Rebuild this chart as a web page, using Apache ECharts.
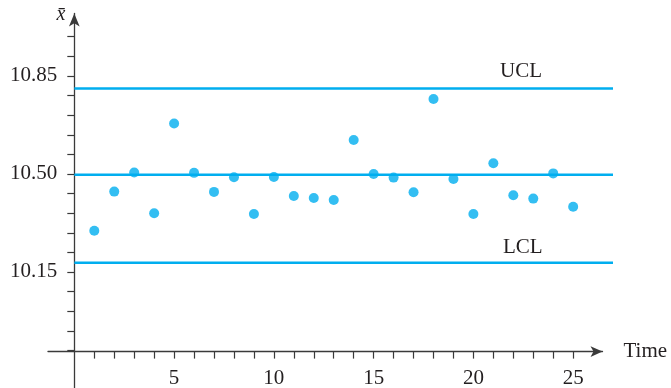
<!DOCTYPE html>
<html>
<head>
<meta charset="utf-8">
<script src="https://cdn.jsdelivr.net/npm/echarts@6/dist/echarts.min.js"></script>
<style>html,body{margin:0;padding:0;background:#fff}#c{width:671px;height:388px}</style>
</head>
<body>
<div id="c"></div>
<script>
// Sample number (time) and sample means
const timeValues = [1,2,3,4,5,6,7,8,9,10,11,12,13,14,15,16,17,18,19,20,21,22,23,24,25];
const meanValues = [10.297,10.437,10.505,10.360,10.680,10.504,10.436,10.488,10.357,10.489,
                    10.421,10.414,10.407,10.621,10.500,10.487,10.435,10.768,10.482,10.357,
                    10.538,10.424,10.412,10.502,10.383];
// Control limits
const ucl = 10.805;
const centerLine = 10.497;
const lcl = 10.183;
const limitSpanX = [0, 27];
// Ticks and labels
const yTickValues = [9.87,9.94,10.01,10.08,10.15,10.22,10.29,10.36,10.43,10.50,10.57,10.64,10.71,10.78,10.85,10.92,10.99];
const yLabelValues = [10.15, 10.50, 10.85];
const xTickValues = [1,2,3,4,5,6,7,8,9,10,11,12,13,14,15,16,17,18,19,20,21,22,23,24,25];
const xLabelValues = [5,10,15,20,25];

const FONT = "'Liberation Serif','Times New Roman',serif";
const INK = '#231f20';
const AX = '#3a3a3a';
const CYAN = '#00aeef';

const X_MIN = -1.32, X_MAX = 26.47, X_MAX_LINES = 27;
const Y_MIN = 9.73, Y_MAX = 11.073;

function limitLine(v, name, offset) {
  return {
    type: 'line',
    name: name,
    xAxisIndex: 1,
    yAxisIndex: 1,
    data: limitSpanX.map(x => [x, v]),
    symbol: 'none',
    silent: true,
    lineStyle: { color: CYAN, width: 2.5 },
    endLabel: name ? {
      show: true,
      formatter: name,
      offset: offset,
      fontFamily: FONT,
      fontSize: 21,
      color: INK
    } : { show: false },
    z: 2
  };
}

const chart = echarts.init(document.getElementById('c'), null, { renderer: 'canvas' });
chart.setOption({
  animation: false,
  backgroundColor: '#fff',
  grid: [
    { left: 48, right: 68.5, top: 13.5, bottom: -1.6, containLabel: false, outerBoundsMode: 'none' },
    { left: 48, right: 58, top: 13.5, bottom: -1.6, containLabel: false, outerBoundsMode: 'none' }
  ],
  xAxis: [{
    type: 'value',
    gridIndex: 0,
    min: X_MIN,
    max: X_MAX,
    offset: -38,
    name: 'Time',
    nameLocation: 'end',
    nameGap: 21,
    nameTextStyle: { fontFamily: FONT, fontSize: 21, color: INK, verticalAlign: 'middle' },
    axisLine: { onZero: false, lineStyle: { color: AX, width: 1.3 }, symbol: ['none', 'arrow'], symbolSize: [8, 12] },
    axisTick: { show: true, length: 7, inside: false, customValues: xTickValues, lineStyle: { color: AX, width: 1.2 } },
    axisLabel: { customValues: xLabelValues, margin: 16, fontFamily: FONT, fontSize: 21, color: INK },
    splitLine: { show: false }
  }, {
    type: 'value',
    gridIndex: 1,
    min: X_MIN,
    max: X_MAX_LINES,
    show: false
  }],
  yAxis: [{
    type: 'value',
    gridIndex: 0,
    min: Y_MIN,
    max: Y_MAX,
    offset: -26.3,
    name: 'x\u0304',
    nameLocation: 'end',
    nameGap: -1,
    nameTextStyle: { fontFamily: FONT, fontStyle: 'italic', fontSize: 20, color: INK, align: 'right', verticalAlign: 'middle', padding: [0, 9, 0, 0] },
    axisLine: { onZero: false, lineStyle: { color: AX, width: 1.3 }, symbol: ['none', 'arrow'], symbolSize: [8, 13] },
    axisTick: { show: true, length: 7, inside: false, customValues: yTickValues, lineStyle: { color: AX, width: 1.2 } },
    axisLabel: { customValues: yLabelValues, margin: 17, fontFamily: FONT, fontSize: 21, color: INK,
      formatter: v => v.toFixed(2) },
    splitLine: { show: false }
  }, {
    type: 'value',
    gridIndex: 1,
    min: Y_MIN,
    max: Y_MAX,
    show: false
  }],
  series: [
    limitLine(ucl, 'UCL', [-121, -17]),
    limitLine(centerLine, '', [0, 0]),
    limitLine(lcl, 'LCL', [-118, -15]),
    {
      type: 'scatter',
      xAxisIndex: 0,
      yAxisIndex: 0,
      data: timeValues.map((t, i) => [t, meanValues[i]]),
      symbol: 'circle',
      symbolSize: 10,
      itemStyle: { color: CYAN },
      z: 3
    }
  ]
});
</script>
</body>
</html>
